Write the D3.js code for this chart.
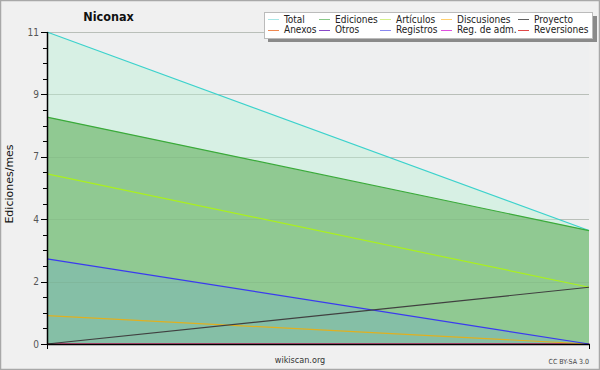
<!DOCTYPE html>
<html><head><meta charset="utf-8">
<script src="https://cdn.jsdelivr.net/npm/d3@7"></script>
<style>
html,body{margin:0;padding:0;background:#f0f0f0;}
svg{display:block;font-family:"DejaVu Sans",sans-serif;}
.cond{font-family:"DejaVu Sans Condensed","DejaVu Sans",sans-serif;font-stretch:condensed;}
</style></head>
<body>
<script>
const title = "Niconax";
const yLabel = "Ediciones/mes";
const periods = [0, 1];
const legendRow1 = ["Total","Ediciones","Artículos","Discusiones","Proyecto"];
const legendRow2 = ["Anexos","Otros","Registros","Reg. de adm.","Reversiones"];
const legendColors1 = ["#a8e6e6","#88c888","#d4f08a","#ffd070","#606060"];
const legendColors2 = ["#f08850","#8848c8","#8888f0","#e050e0","#e04848"];
const total = [11, 4];
const ediciones = [8, 4];
const articulos = [6, 2];
const discusiones = [1, 0];
const proyecto = [0, 2];
const registros = [3, 0];
const anexos = [0, 0];
const otros = [0, 0];
const regAdm = [0, 0];
const reversiones = [0, 0];
const yTickValues = [0, 2.2, 4.4, 6.6, 8.8, 11];

const W = 600, H = 370;
const svg = d3.select("body").append("svg").attr("width", W).attr("height", H);
svg.append("rect").attr("x",0.5).attr("y",0.5).attr("width",W-1).attr("height",H-1)
  .attr("fill","#f0f0f0").attr("stroke","#a8a8a8").attr("stroke-width",1.5);

const x = d3.scaleLinear().domain([0,1]).range([47,589]);
const y = d3.scaleLinear().domain([0,11]).range([344,32]);

svg.append("rect").attr("x",47).attr("y",32).attr("width",542).attr("height",312).attr("fill","#eeeff0");

// grid
svg.append("g").selectAll("line").data(yTickValues.slice(1)).join("line")
  .attr("x1",47).attr("x2",589).attr("y1",d=>Math.round(y(d))+0.5).attr("y2",d=>Math.round(y(d))+0.5)
  .attr("stroke","#c8c8c8").attr("stroke-width",1);

const area = d3.area().x((d,i)=>x(periods[i])).y0(y(0)).y1(d=>y(d));
const line = d3.line().x((d,i)=>x(periods[i])).y(d=>y(d));

svg.append("path").datum(total).attr("d",area).attr("fill","rgba(200,240,220,0.6)");
svg.append("path").datum(ediciones).attr("d",area).attr("fill","#90c992");
svg.append("path").datum(registros).attr("d",area).attr("fill","rgba(120,180,190,0.45)");
svg.append("g").selectAll("line").data(yTickValues.slice(1)).join("line")
  .attr("x1",47).attr("x2",589).attr("y1",d=>Math.round(y(d))+0.5).attr("y2",d=>Math.round(y(d))+0.5)
  .attr("stroke","rgba(100,140,100,0.15)").attr("stroke-width",1);

const series = [
  [anexos,"#f08850"],[otros,"#8848c8"],[regAdm,"#e050e0"],[reversiones,"#e04848"],
  [total,"#3cd2cc"],[ediciones,"#3aaa3a"],[articulos,"#aaf01e"],
  [discusiones,"#e0b020"],[registros,"#3a3af0"],[proyecto,"#404040"]
];
series.forEach(([d,c])=>{
  svg.append("path").datum(d).attr("d",line).attr("fill","none").attr("stroke",c).attr("stroke-width",1.2);
});

// y axis
const yAxis = svg.append("g").attr("transform","translate(47,0)");
const minor = d3.range(0, 11.0001, 0.55);
yAxis.selectAll("line.minor").data(minor).join("line").attr("class","minor")
  .attr("x1",-4).attr("x2",0).attr("y1",d=>Math.round(y(d))+0.5).attr("y2",d=>Math.round(y(d))+0.5)
  .attr("stroke","#000");
yAxis.selectAll("line.major").data(yTickValues).join("line").attr("class","major")
  .attr("x1",-6).attr("x2",0).attr("y1",d=>Math.round(y(d))+0.5).attr("y2",d=>Math.round(y(d))+0.5)
  .attr("stroke","#000");
yAxis.selectAll("text").data(yTickValues).join("text").attr("class","cond")
  .attr("x",-8).attr("y",d=>y(d)+3.5).attr("text-anchor","end")
  .attr("font-size",10).attr("fill","#555").text(d=>Math.round(d));
yAxis.append("line").attr("x1",0.5).attr("x2",0.5).attr("y1",32).attr("y2",345).attr("stroke","#000").attr("stroke-width",1.5);

// x axis
const xAxis = svg.append("g");
xAxis.append("line").attr("x1",47).attr("x2",590).attr("y1",344.5).attr("y2",344.5).attr("stroke","#000").attr("stroke-width",1.5);
xAxis.selectAll("line.t").data(periods).join("line").attr("class","t")
  .attr("x1",d=>Math.round(x(d))+0.5).attr("x2",d=>Math.round(x(d))+0.5).attr("y1",344).attr("y2",349).attr("stroke","#000");

// title
svg.append("text").attr("class","cond").attr("x",108.5).attr("y",21).attr("text-anchor","middle")
  .attr("font-size",12.5).attr("font-weight","bold").attr("fill","#111").text(title);

// y label
svg.append("text").attr("transform","translate(13,184) rotate(-90)").attr("text-anchor","middle")
  .attr("font-size",11).attr("fill","#111").text(yLabel);

// footer
svg.append("text").attr("class","cond").attr("x",300).attr("y",363).attr("text-anchor","middle")
  .attr("font-size",9).attr("fill","#333").text("wikiscan.org");
svg.append("text").attr("class","cond").attr("x",589).attr("y",364).attr("text-anchor","end")
  .attr("font-size",7).attr("fill","#444").text("CC BY-SA 3.0");

// legend
const lg = svg.append("g");
lg.append("rect").attr("x",268).attr("y",16).attr("width",329).attr("height",26).attr("fill","#8a8a8a");
lg.append("rect").attr("x",264.5).attr("y",12.5).attr("width",328).attr("height",26).attr("fill","#fff").attr("stroke","#bbb");
const colX = [268, 319, 380, 441, 518];
const rows = [[legendRow1, legendColors1, 19],[legendRow2, legendColors2, 29.5]];
rows.forEach(([names, cols, cy])=>{
  names.forEach((n,i)=>{
    lg.append("line").attr("x1",colX[i]).attr("x2",colX[i]+11).attr("y1",Math.round(cy)+0.5).attr("y2",Math.round(cy)+0.5)
      .attr("stroke",cols[i]).attr("stroke-width",1);
    lg.append("text").attr("class","cond").attr("x",colX[i]+16).attr("y",cy+3.5).attr("font-size",10).attr("fill","#222").text(n);
  });
});
</script>
</body></html>
